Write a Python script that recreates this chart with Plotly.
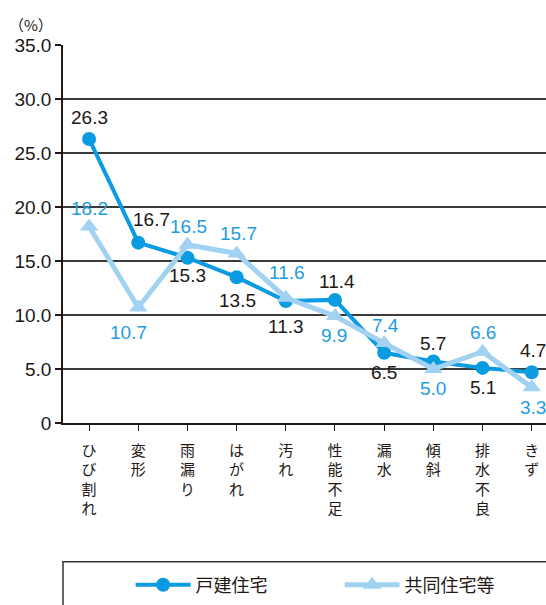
import plotly.graph_objects as go

categories = ["ひび割れ", "変形", "雨漏り", "はがれ", "汚れ", "性能不足", "漏水", "傾斜", "排水不良", "きず"]
detached = [26.3, 16.7, 15.3, 13.5, 11.3, 11.4, 6.5, 5.7, 5.1, 4.7]
condo = [18.2, 10.7, 16.5, 15.7, 11.6, 9.9, 7.4, 5.0, 6.6, 3.3]
series_names = ["戸建住宅", "共同住宅等"]
y_ticks = [0, 5, 10, 15, 20, 25, 30, 35]
y_ticktext = ["0", "5.0", "10.0", "15.0", "20.0", "25.0", "30.0", "35.0"]

# label offsets (px): (xshift, yshift)
det_off = [(0, 21), (13, 23), (0, -18), (1, -23), (0, -26), (2, 18), (0, -20), (0, 18), (0, -20), (1, 22)]
con_off = [(0, 18), (-10, -25), (1, 18), (2, 20), (1, 25), (-1, -19), (1, 18), (0, -19), (0, 19), (1, -20)]

DARK = "#0a9be2"
LIGHT = "#a2d2f2"
LABEL_BLUE = "#1d9ddf"
NUMFONT = "Liberation Sans, Arial, sans-serif"
JPFONT = "Noto Sans CJK JP, sans-serif"

fig = go.Figure()
fig.add_trace(go.Scatter(
    x=categories, y=detached, name=series_names[0], mode="lines+markers",
    line=dict(color=DARK, width=4), marker=dict(symbol="circle", size=14, color=DARK),
))
fig.add_trace(go.Scatter(
    x=categories, y=condo, name=series_names[1], mode="lines+markers",
    line=dict(color=LIGHT, width=5), marker=dict(symbol="triangle-up", size=16, color=LIGHT),
))

for c, v, (dx, dy) in zip(categories, detached, det_off):
    fig.add_annotation(x=c, y=v, text=f"{v:.1f}", showarrow=False, xshift=dx, yshift=dy,
                       xanchor="center", yanchor="middle",
                       font=dict(family=NUMFONT, size=19, color="#231815"))
for c, v, (dx, dy) in zip(categories, condo, con_off):
    fig.add_annotation(x=c, y=v, text=f"{v:.1f}", showarrow=False, xshift=dx, yshift=dy,
                       xanchor="center", yanchor="middle",
                       font=dict(family=NUMFONT, size=19, color=LABEL_BLUE))

fig.add_annotation(xref="paper", yref="paper", x=-0.066, y=1.053, text="（%）",
                   xanchor="center", yanchor="middle",
                   showarrow=False, font=dict(family=JPFONT, size=15, color="#231815"))

# legend frame (only top/left visible)
fig.add_shape(type="rect", xref="paper", yref="paper", x0=0, x1=1.1, y0=-0.367, y1=-0.7,
              line=dict(color="#333333", width=1.5))

fig.update_layout(
    width=546, height=605,
    margin=dict(l=63, r=0, t=45, b=182, autoexpand=False),
    paper_bgcolor="white", plot_bgcolor="white",
    showlegend=True,
    legend=dict(orientation="h", x=0.14, xanchor="left", y=-0.4286, yanchor="middle",
                font=dict(family=JPFONT, size=18, color="#231815"),
                itemwidth=55, entrywidth=139, entrywidthmode="pixels",
                bgcolor="rgba(0,0,0,0)"),
    xaxis=dict(
        type="category", range=[-0.53, 9.29],
        tickvals=categories, ticktext=["<br>".join(c) for c in categories],
        ticks="outside", ticklen=6, tickcolor="#231815", tickwidth=1.2,
        showline=True, linecolor="#231815", linewidth=1.5,
        showgrid=False, zeroline=False, automargin=False,
        ticklabelstandoff=7,
        tickfont=dict(family=JPFONT, size=15, color="#231815"),
    ),
    yaxis=dict(
        range=[0, 35], tickvals=y_ticks, ticktext=y_ticktext,
        ticks="outside", ticklen=6, tickcolor="#231815", tickwidth=1.5,
        showline=True, linecolor="#231815", linewidth=1.5,
        showgrid=True, gridcolor="#3a3a3a", gridwidth=1.5, zeroline=False, automargin=False,
        tickfont=dict(family=NUMFONT, size=19, color="#231815"),
    ),
)

fig.write_html("out.html", config={"displayModeBar": False},
               post_script="document.body.style.margin='0';document.body.style.overflow='hidden';")
